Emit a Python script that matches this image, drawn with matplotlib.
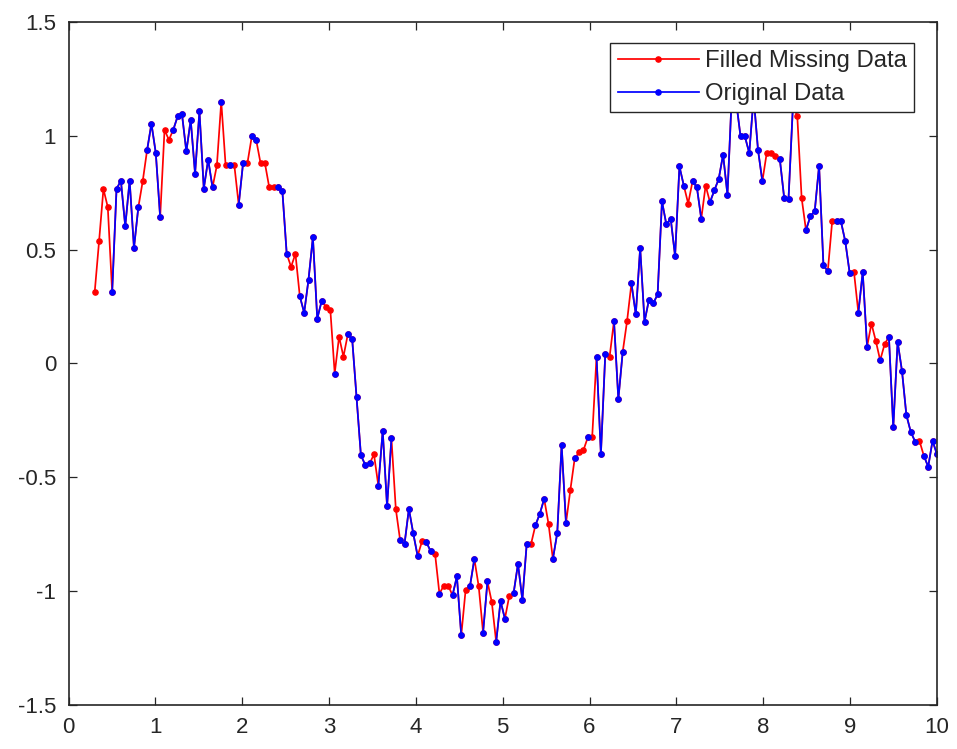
import numpy as np
import matplotlib
matplotlib.use("Agg")
import matplotlib.pyplot as plt

# sample grid (200 points over 0..10); first 6 samples are empty in both series
x_all = np.linspace(0, 10, 200)
first_idx = 6

# filled series values, samples 6..199
filled = [
    0.313, 0.536, 0.766, 0.686, 0.313, 0.766, 0.803, 0.602, 0.803, 0.507,   # 6-15
    0.686, 0.800, 0.936, 1.053, 0.924, 0.642, 1.026, 0.982, 1.026, 1.085,   # 16-25
    1.095, 0.931, 1.070, 0.833, 1.107, 0.768, 0.895, 0.773, 0.870, 1.150,   # 26-35
    0.870, 0.870, 0.870, 0.697, 0.880, 0.880, 0.997, 0.982, 0.880, 0.880,   # 36-45
    0.773, 0.773, 0.773, 0.759, 0.481, 0.424, 0.481, 0.295, 0.222, 0.368,   # 46-55
    0.554, 0.196, 0.273, 0.249, 0.234, -0.045, 0.117, 0.029, 0.127, 0.108,  # 56-65
    -0.150, -0.404, -0.447, -0.440, -0.401, -0.538, -0.297, -0.629, -0.330, -0.640,  # 66-75
    -0.779, -0.794, -0.640, -0.748, -0.847, -0.783, -0.786, -0.827, -0.838, -1.013,  # 76-85
    -0.977, -0.977, -1.020, -0.937, -1.196, -0.996, -0.980, -0.860, -0.981, -1.184,  # 86-95
    -0.959, -1.050, -1.225, -1.045, -1.123, -1.023, -1.010, -0.882, -1.040, -0.794,  # 96-105
    -0.794, -0.712, -0.662, -0.596, -0.706, -0.860, -0.746, -0.360, -0.702, -0.557,  # 106-115
    -0.418, -0.392, -0.382, -0.326, -0.326, 0.029, -0.399, 0.039, 0.029, 0.186,      # 116-125
    -0.158, 0.050, 0.186, 0.351, 0.215, 0.507, 0.183, 0.278, 0.263, 0.303,  # 126-135
    0.712, 0.610, 0.635, 0.471, 0.865, 0.781, 0.702, 0.800, 0.773, 0.635,   # 136-145
    0.781, 0.708, 0.760, 0.810, 0.917, 0.741, 1.180, 1.150, 0.997, 0.997,   # 146-155
    0.924, 1.170, 0.939, 0.800, 0.924, 0.924, 0.912, 0.898, 0.727, 0.724,   # 156-165
    1.130, 1.088, 0.727, 0.585, 0.646, 0.668, 0.868, 0.430, 0.405, 0.624,   # 166-175
    0.624, 0.624, 0.536, 0.398, 0.401, 0.222, 0.401, 0.073, 0.174, 0.098,   # 176-185
    0.013, 0.083, 0.117, -0.282, 0.094, -0.034, -0.227, -0.301, -0.344, -0.341,  # 186-195
    -0.406, -0.455, -0.341, -0.399,                                          # 196-199
]

# sample indices that were missing in the original data
missing_idx = [6, 7, 8, 9, 17, 22, 23, 34, 36, 38, 41, 44, 45, 46, 47, 51, 52,
               59, 60, 62, 63, 70, 75, 81, 84, 86, 87, 91, 94, 97, 101, 106,
               110, 115, 117, 118, 120, 124, 128, 142, 146, 160, 161, 162,
               167, 168, 175, 180, 184, 185, 187, 195]

x = x_all[first_idx:]
F = np.array(filled)
A = F.copy()
A[np.array(missing_idx) - first_idx] = np.nan

plt.rcParams['font.family'] = ['Liberation Sans', 'DejaVu Sans']
dark = '#262626'

fig = plt.figure(figsize=(9.57, 7.49), dpi=100)
ax = fig.add_axes([0.0716, 0.0594, 0.9074, 0.9112])

ax.plot(x, F, '.-', color='red', linewidth=1.25, markersize=7.5, label='Filled Missing Data')
ax.plot(x, A, '.-', color='blue', linewidth=1.25, markersize=7.5, label='Original Data')

ax.set_xlim(0, 10)
ax.set_ylim(-1.5, 1.5)
ax.set_xticks(range(0, 11))
ax.set_yticks([-1.5, -1, -0.5, 0, 0.5, 1, 1.5])
ax.set_yticklabels(['-1.5', '-1', '-0.5', '0', '0.5', '1', '1.5'])

for s in ax.spines.values():
    s.set_color(dark)
    s.set_linewidth(1.2)
ax.tick_params(direction='in', top=True, right=True, length=6, width=0.9,
               color=dark, labelcolor=dark, labelsize=16)
ax.tick_params(axis='x', pad=9)
ax.tick_params(axis='y', pad=9)

leg = ax.legend(loc='upper right', bbox_to_anchor=(0.9735, 0.9692), borderaxespad=0,
                fontsize=17.2, fancybox=False, framealpha=1, edgecolor=dark,
                handlelength=3.4, handletextpad=0.25, borderpad=0.3, labelspacing=0.45)
leg.get_frame().set_linewidth(1.0)
for t in leg.get_texts():
    t.set_color(dark)

fig.savefig('out.png', dpi=100)
